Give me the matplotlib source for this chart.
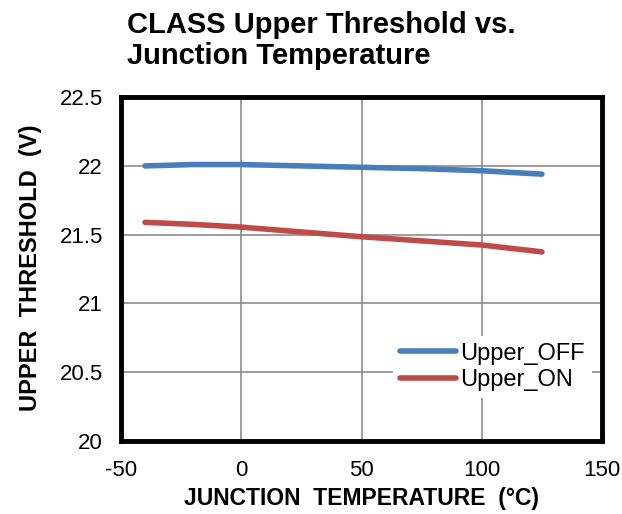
import matplotlib
matplotlib.use("Agg")
import matplotlib.pyplot as plt

plt.rcParams['font.family'] = ['Liberation Sans', 'DejaVu Sans']
plt.rcParams['axes.unicode_minus'] = False

# values
temps = [-40, -20, 0, 25, 50, 75, 100, 125]
upper_off = [22.00, 22.01, 22.01, 22.00, 21.99, 21.98, 21.965, 21.94]
upper_on = [21.59, 21.575, 21.555, 21.52, 21.485, 21.455, 21.425, 21.375]
xticks = [-50, 0, 50, 100, 150]
yticks = [20, 20.5, 21, 21.5, 22, 22.5]

fig = plt.figure(figsize=(6.22, 5.14), dpi=100)
ax = fig.add_axes([0.1945, 0.142, 0.7735, 0.669])

ax.plot(temps, upper_off, color='#4a7ebb', lw=4, solid_capstyle='round', label='Upper_OFF')
ax.plot(temps, upper_on, color='#be4b48', lw=4, solid_capstyle='round', label='Upper_ON')

ax.set_xlim(-50, 150)
ax.set_ylim(20, 22.5)
ax.set_xticks(xticks)
ax.set_yticks(yticks)
ax.set_yticklabels(['20', '20.5', '21', '21.5', '22', '22.5'])
ax.grid(True, color='#8c8c8c', lw=1.2)
ax.set_axisbelow(True)
ax.tick_params(length=0, labelsize=16)
ax.tick_params(axis='x', pad=14)
ax.tick_params(axis='y', pad=13)

for s in ax.spines.values():
    s.set_linewidth(3.5)
    s.set_color('black')

ax.set_xlabel('JUNCTION  TEMPERATURE  (\u00b0C)', fontsize=16.5, fontweight='bold', labelpad=4)
ax.set_ylabel('UPPER  THRESHOLD  (V)', fontsize=17, fontweight='bold')
ax.yaxis.set_label_coords(-0.165, 0.503)

leg = ax.legend(loc='lower right', bbox_to_anchor=(0.979, 0.125), frameon=True, fontsize=17,
                handlelength=2.37, handletextpad=0.2, borderpad=0.3, labelspacing=0.18,
                borderaxespad=0)
leg.get_frame().set_edgecolor('none')
leg.get_frame().set_facecolor('white')
leg.get_frame().set_alpha(1)
leg.get_frame().set_boxstyle('square', pad=0)

fig.text(0.204, 0.978, 'CLASS Upper Threshold vs.\nJunction Temperature', fontsize=21,
         fontweight='bold', va='top', ha='left', linespacing=1.12)

fig.savefig('out.png', dpi=100)
